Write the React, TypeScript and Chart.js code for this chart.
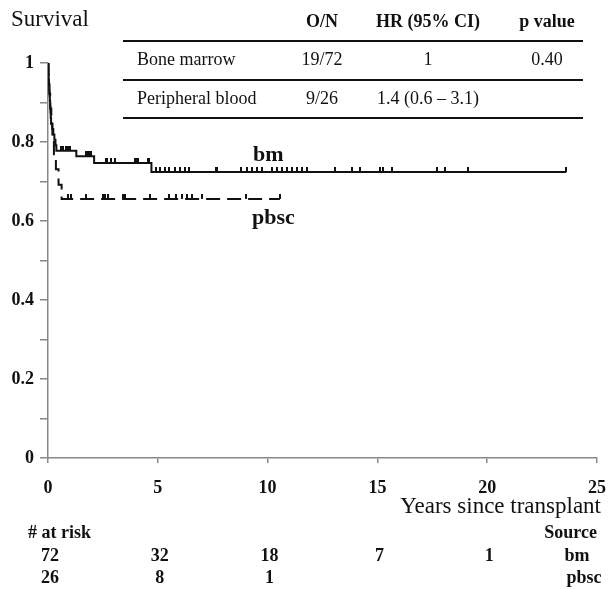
import React, { useEffect, useRef } from 'react';
import { Chart, registerables } from 'chart.js';

Chart.register(...registerables);

// ---- data ----
const bmTimes = [0, 0.01, 0.02, 0.03, 0.045, 0.06, 0.07, 0.085, 0.1, 0.11, 0.125, 0.14, 0.19, 0.24, 0.29, 0.34, 0.38, 1.29, 2.1, 4.71, 23.6];
const bmSurvival = [1, 0.986, 0.972, 0.958, 0.944, 0.931, 0.917, 0.903, 0.889, 0.875, 0.861, 0.847, 0.833, 0.819, 0.806, 0.792, 0.778, 0.764, 0.747, 0.724, 0.724];
const bmCensorTimes = [0.58, 0.68, 0.84, 0.9, 1.02, 1.75, 1.8, 1.87, 1.98, 2.66, 2.7, 2.89, 3.04, 3.95, 3.98, 4.03, 4.07, 4.1, 4.56, 4.6, 4.94,
  5.12, 5.32, 5.51, 5.77, 6.0, 6.23, 6.43, 7.64, 7.71, 8.81, 9.04, 9.27, 9.5, 9.73,
  10.18, 10.41, 10.64, 10.87, 11.09, 11.32, 11.55, 11.78, 13.07, 13.83, 14.21,
  15.1, 15.27, 15.65, 17.73, 18.08, 19.14, 23.6];

const pbscTimes = [0, 0.03, 0.06, 0.1, 0.15, 0.2, 0.27, 0.36, 0.48, 0.62, 10.56];
const pbscSurvival = [1, 0.962, 0.923, 0.885, 0.846, 0.808, 0.769, 0.731, 0.692, 0.656, 0.656];
const pbscCensorTimes = [0.9, 1.07, 1.75, 2.51, 2.6, 2.73, 3.42, 3.5, 4.64, 5.52, 5.85, 6.08, 6.31, 6.54, 6.99, 9.01, 10.56];

const xTickStep = 5;
const yTickLabels = ['0', '0.2', '0.4', '0.6', '0.8', '1'];

const riskTimes = [0, 5, 10, 15, 20];
const bmAtRisk = [72, 32, 18, 7, 1];
const pbscAtRisk = [26, 8, 1];

const tableHeader = ['O/N', 'HR (95% CI)', 'p value'];
const tableRowLabels = ['Bone marrow', 'Peripheral blood'];
const tableON = ['19/72', '9/26'];
const tableHR = ['1', '1.4 (0.6 – 3.1)'];
const tableP = ['0.40', ''];

const FONT = '"Liberation Serif", "Times New Roman", serif';

function survAt(times: number[], surv: number[], t: number): number {
  let s = surv[0];
  for (let i = 0; i < times.length; i++) {
    if (times[i] <= t) s = surv[i];
  }
  return s;
}

function makeTickImage(): HTMLCanvasElement {
  const c = document.createElement('canvas');
  c.width = 2;
  c.height = 10;
  const g = c.getContext('2d')!;
  g.fillStyle = '#111';
  g.fillRect(0, 0, 2, 5);
  return c;
}

const textPlugin = {
  id: 'kmText',
  afterDraw(chart: any) {
    const ctx = chart.ctx;
    const xs = chart.scales.x;
    ctx.save();
    ctx.fillStyle = '#111';
    ctx.textBaseline = 'alphabetic';

    ctx.font = `23px ${FONT}`;
    ctx.textAlign = 'left';
    ctx.fillText('Survival', 11, 26);
    ctx.textAlign = 'right';
    ctx.fillText('Years since transplant', 601, 513);

    ctx.font = `bold 18px ${FONT}`;
    ctx.textAlign = 'left';
    ctx.fillText('# at risk', 28, 538);
    ctx.textAlign = 'right';
    ctx.fillText('Source', 597, 538);

    ctx.textAlign = 'center';
    bmAtRisk.forEach((n, i) => {
      ctx.fillText(String(n), xs.getPixelForValue(riskTimes[i]) + 2, 561);
    });
    pbscAtRisk.forEach((n, i) => {
      ctx.fillText(String(n), xs.getPixelForValue(riskTimes[i]) + 2, 583);
    });
    ctx.fillText('bm', 577, 561);
    ctx.fillText('pbsc', 584, 583);

    ctx.font = `bold 22px ${FONT}`;
    ctx.textAlign = 'left';
    ctx.fillText('bm', 253, 161);
    ctx.fillText('pbsc', 252, 224);
    ctx.restore();
  },
};

export default function App() {
  const ref = useRef<HTMLCanvasElement>(null);

  useEffect(() => {
    if (!ref.current) return;
    const tickImg = makeTickImage();
    const chart = new Chart(ref.current, {
      type: 'line',
      data: {
        datasets: [
          {
            label: 'bm',
            data: bmTimes.map((t, i) => ({ x: t, y: bmSurvival[i] })),
            stepped: 'before',
            borderColor: '#111',
            borderWidth: 2,
            pointRadius: 0,
            fill: false,
          },
          {
            label: 'pbsc',
            data: pbscTimes.map((t, i) => ({ x: t, y: pbscSurvival[i] })),
            stepped: 'before',
            borderColor: '#111',
            borderWidth: 2,
            borderDash: [14, 7],
            pointRadius: 0,
            fill: false,
          },
          {
            label: 'bm censored',
            type: 'scatter',
            data: bmCensorTimes.map((t) => ({ x: t, y: survAt(bmTimes, bmSurvival, t) })),
            pointStyle: tickImg,
            pointRadius: 3,
            showLine: false,
          },
          {
            label: 'pbsc censored',
            type: 'scatter',
            data: pbscCensorTimes.map((t) => ({ x: t, y: survAt(pbscTimes, pbscSurvival, t) })),
            pointStyle: tickImg,
            pointRadius: 3,
            showLine: false,
          },
        ] as any,
      },
      options: {
        animation: false,
        responsive: false,
        layout: { padding: { top: 63, right: 12, left: 0, bottom: 0 } },
        plugins: { legend: { display: false }, tooltip: { enabled: false } },
        scales: {
          x: {
            type: 'linear',
            min: 0,
            max: 25,
            ticks: {
              stepSize: xTickStep,
              autoSkip: false,
              maxRotation: 0,
              padding: 15,
              color: '#111',
              font: { family: FONT, size: 18, weight: 'bold' },
            },
            grid: { drawOnChartArea: false, drawTicks: true, tickLength: 5, color: '#888', lineWidth: 1.5 },
            border: { color: '#888', width: 1.5 },
            afterFit: (s: any) => {
              s.height = 131;
              s.paddingLeft = 0;
              s.paddingRight = 0;
            },
          },
          y: {
            type: 'linear',
            min: 0,
            max: 1,
            ticks: {
              stepSize: 0.1,
              autoSkip: false,
              padding: 6,
              color: '#111',
              font: { family: FONT, size: 18, weight: 'bold' },
              callback: (v: any) => {
                const r = Math.round(Number(v) * 10);
                return r % 2 === 0 ? yTickLabels[r / 2] : '';
              },
            },
            grid: { drawOnChartArea: false, drawTicks: true, tickLength: 8, color: '#888', lineWidth: 1.5 },
            border: { color: '#888', width: 1.5 },
            afterFit: (s: any) => {
              s.width = 48;
              s.paddingTop = 0;
              s.paddingBottom = 0;
            },
          },
        },
      } as any,
      plugins: [textPlugin],
    });
    return () => chart.destroy();
  }, []);

  const cellStyle = (baseline: number, size: number, bold: boolean): React.CSSProperties => ({
    position: 'absolute',
    top: baseline - Math.round(size * 1.0),
    height: size * 1.3,
    lineHeight: `${size * 1.3}px`,
    fontSize: size,
    fontFamily: FONT,
    fontWeight: bold ? 'bold' : 'normal',
    color: '#111',
    whiteSpace: 'nowrap',
  });
  const centered = (cx: number, baseline: number, size: number, bold: boolean, text: string, key: string) => (
    <div key={key} style={{ ...cellStyle(baseline, size, bold), left: cx - 100, width: 200, textAlign: 'center' }}>{text}</div>
  );
  const hline = (top: number, key: string) => (
    <div key={key} style={{ position: 'absolute', left: 123, width: 460, top, height: 2, background: '#111' }} />
  );
  const colX = [322, 428, 547];
  const rowBase = [66, 105];

  return (
    <div style={{ position: 'absolute', left: 0, top: 0, width: 609, height: 589, background: '#fff', overflow: 'hidden' }}>
      <canvas ref={ref} width={609} height={589} style={{ position: 'absolute', left: 0, top: 0, width: 609, height: 589 }} />
      {tableHeader.map((h, i) => centered(colX[i], 28, 18, true, h, 'h' + i))}
      {hline(40, 'l1')}
      {hline(79, 'l2')}
      {hline(117, 'l3')}
      {tableRowLabels.map((lab, r) => (
        <div key={'r' + r} style={{ ...cellStyle(rowBase[r], 18, false), left: 137 }}>{lab}</div>
      ))}
      {tableON.map((t, r) => centered(colX[0], rowBase[r], 18, false, t, 'on' + r))}
      {tableHR.map((t, r) => centered(colX[1], rowBase[r], 18, false, t, 'hr' + r))}
      {tableP.map((t, r) => centered(colX[2], rowBase[r], 18, false, t, 'p' + r))}
    </div>
  );
}
